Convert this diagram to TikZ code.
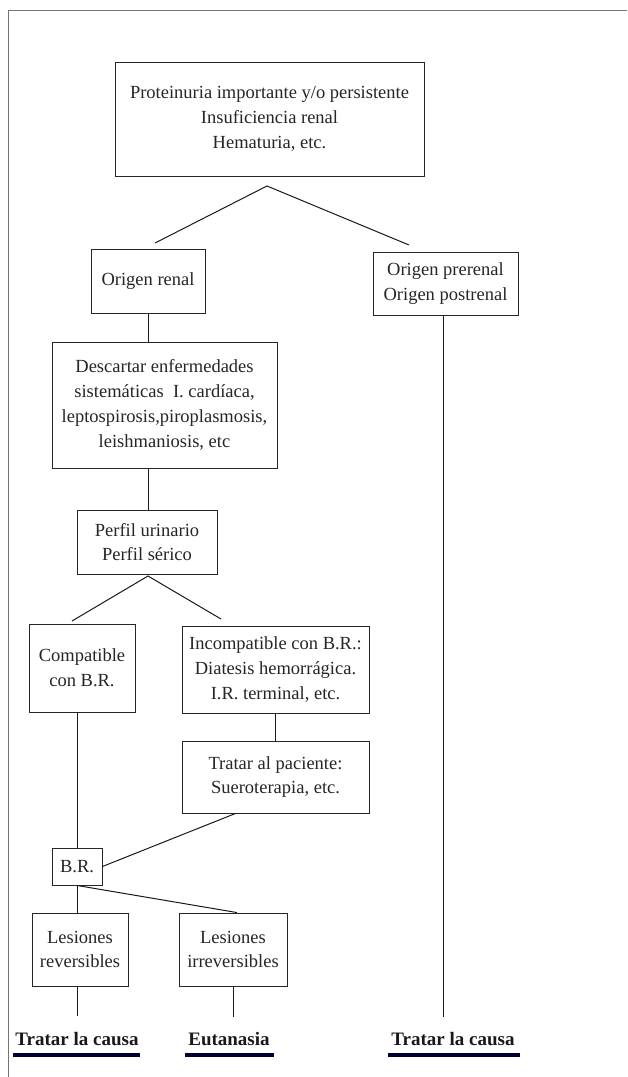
\documentclass[tikz,border=0pt]{standalone}
\usepackage{fontspec}
\setmainfont{Liberation Serif}
\begin{document}
\begin{tikzpicture}[x=1pt,y=-1pt,
  box/.style={draw=black!85, line width=0.9pt, align=center, inner sep=0pt,
    text=black!85, font=\fontsize{18.5}{24.8}\selectfont},
  conn/.style={draw=black!90, line width=1pt},
  result/.style={font=\fontsize{19}{22}\selectfont\bfseries, text=black!90, inner sep=0pt},
  bar/.style={line width=4pt, draw=black!80!blue}
]
\useasboundingbox (0,0) rectangle (627,1077);
\fill[white] (0,0) rectangle (627,1077);
% frame
\draw[black!55, line width=1pt] (627,10) -- (8,10) -- (8,1077);

% boxes
\node[box, minimum width=309pt, minimum height=114pt] (top) at (269.5,119)
  {Proteinuria importante y/o persistente\\Insuficiencia renal\\Hematuria, etc.};
\node[box, minimum width=114pt, minimum height=64pt] (renal) at (148,281) {Origen renal};
\node[box, minimum width=145pt, minimum height=63pt] (prerenal) at (445.5,283.5)
  {Origen prerenal\\Origen postrenal};
\node[box, minimum width=225pt, minimum height=126pt] (descartar) at (164.5,405)
  {Descartar enfermedades\\sistemáticas~ I. cardíaca,\\leptospirosis,piroplasmosis,\\leishmaniosis, etc};
\node[box, minimum width=140pt, minimum height=64pt] (perfil) at (147,542)
  {Perfil urinario\\Perfil sérico};
\node[box, minimum width=106pt, minimum height=88pt] (compat) at (82,668)
  {Compatible\\con B.R.};
\node[box, minimum width=187pt, minimum height=87pt] (incompat) at (275.5,669.5)
  {Incompatible con B.R.:\\Diatesis hemorrágica.\\I.R. terminal, etc.};
\node[box, minimum width=187pt, minimum height=72pt] (tratarp) at (275.5,777)
  {Tratar al paciente:\\Sueroterapia, etc.};
\node[box, minimum width=50pt, minimum height=37pt] (br) at (77,866.5) {B.R.};
\node[box, minimum width=96pt, minimum height=73pt] (lrev) at (80,949.5)
  {Lesiones\\reversibles};
\node[box, minimum width=108pt, minimum height=73pt] (lirr) at (233,949.5)
  {Lesiones\\irreversibles};

% results
\node[result] (res1) at (77,1039) {Tratar la causa};
\node[result] (res2) at (229,1039) {Eutanasia};
\node[result] (res3) at (453,1039) {Tratar la causa};
\draw[bar] (13,1055) -- (140,1055);
\draw[bar] (185,1055) -- (274,1055);
\draw[bar] (388,1055) -- (520,1055);

% connector coordinates
\coordinate (apex1) at (267,186);
\coordinate (renalIn) at (155,243);
\coordinate (preIn) at (409,245);
\coordinate (apex2) at (148,576);
\coordinate (compIn) at (72,621);
\coordinate (incIn) at (221,619);
\coordinate (end1) at (77,1016);
\coordinate (end2) at (233,1017);
\coordinate (end3) at (443,1017);

% connectors
\draw[conn] (renalIn) -- (apex1) -- (preIn);
\draw[conn] (renal.south) -- (descartar.north -| renal.south);
\draw[conn] (descartar.south -| renal.south) -- (perfil.north -| renal.south);
\draw[conn] (prerenal.south -| end3) -- (end3);
\draw[conn] (compIn) -- (apex2) -- (incIn);
\draw[conn] (incompat.south) -- (tratarp.north);
\draw[conn] (compat.south -| br.north) -- (br.north);
\draw[conn] ([xshift=-40pt]tratarp.south) -- (br.east);
\draw[conn] (br.south) -- (lrev.north -| br.south);
\draw[conn] (br.south) -- ([xshift=4pt]lirr.north);
\draw[conn] (lrev.south -| end1) -- (end1);
\draw[conn] (lirr.south) -- (end2);
\end{tikzpicture}
\end{document}
